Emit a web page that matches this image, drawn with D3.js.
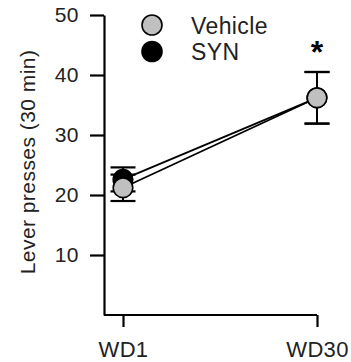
<!DOCTYPE html>
<html>
<head>
<meta charset="utf-8">
<script src="https://cdn.jsdelivr.net/npm/d3@7"></script>
<style>
  body { margin: 0; background: #fff; }
  svg { display: block; font-family: "Liberation Sans", Arial, sans-serif; }
</style>
</head>
<body>
<div id="chart"></div>
<script>
// Data
const days = ['WD1', 'WD30'];
const groups = ['SYN', 'Vehicle'];          // SYN drawn first, Vehicle on top
const synMean = [22.6, 36.2];
const synSem = [2.0, 4.3];
const vehicleMean = [21.2, 36.2];
const vehicleSem = [2.2, 4.3];
const yTicks = [10, 20, 30, 40, 50];
const legendLabels = ['Vehicle', 'SYN'];
const starDay = 'WD30';

const width = 351, height = 362;
const colors = { Vehicle: '#c0c0c0', SYN: '#000000' };

const series = [
    { name: 'SYN', mean: synMean, sem: synSem },
    { name: 'Vehicle', mean: vehicleMean, sem: vehicleSem }
];

const svg = d3.select('#chart')
    .append('svg')
    .attr('width', width)
    .attr('height', height);

// Scales
const x = d3.scalePoint().domain(days).range([123, 317]);
const y = d3.scaleLinear().domain([0, 50]).range([315, 15]);
const axisX = 104;

// Y axis
const yAxis = svg.append('g')
    .attr('transform', `translate(${axisX},0)`)
    .call(d3.axisLeft(y).tickValues(yTicks).tickSize(14).tickSizeOuter(0).tickPadding(11));
yAxis.select('.domain').attr('stroke', '#000').attr('stroke-width', 2.2);
yAxis.selectAll('.tick line').attr('stroke', '#000').attr('stroke-width', 2.2);
yAxis.selectAll('.tick text')
    .attr('fill', '#222')
    .style('font-size', '21px')
    .style('letter-spacing', '0.5px');

// X axis
const xAxis = svg.append('g')
    .attr('transform', `translate(0,${y(0)})`)
    .call(d3.axisBottom(x).tickSize(12).tickSizeOuter(0).tickPadding(14));
xAxis.select('.domain')
    .attr('d', `M${axisX},0H${x(days[days.length - 1])}`)
    .attr('stroke', '#000').attr('stroke-width', 2.2);
xAxis.selectAll('.tick line').attr('stroke', '#000').attr('stroke-width', 2.2);
xAxis.selectAll('.tick text')
    .attr('fill', '#222')
    .style('font-size', '22px')
    .style('letter-spacing', '0.3px');

// Y axis label
svg.append('text')
    .attr('transform', `translate(35,${(y(0) + y(50)) / 2 - 3}) rotate(-90)`)
    .attr('text-anchor', 'middle')
    .attr('fill', '#222')
    .style('font-size', '21px')
    .style('letter-spacing', '0.45px')
    .text('Lever presses (30 min)');

// Lines
const line = d3.line()
    .x((d, i) => x(days[i]))
    .y(d => y(d));

series.forEach(s => {
    svg.append('path')
        .datum(s.mean)
        .attr('d', line)
        .attr('fill', 'none')
        .attr('stroke', '#000')
        .attr('stroke-width', 1.8);
});

// Error bars and markers
const capHalf = 12.5;
series.forEach(s => {
    const g = svg.append('g');
    s.mean.forEach((m, i) => {
        const cx = x(days[i]);
        const lo = y(m - s.sem[i]), hi = y(m + s.sem[i]);
        g.append('line').attr('x1', cx).attr('x2', cx).attr('y1', lo).attr('y2', hi)
            .attr('stroke', '#000').attr('stroke-width', 2);
        [lo, hi].forEach(v => {
            g.append('line').attr('x1', cx - capHalf).attr('x2', cx + capHalf)
                .attr('y1', v).attr('y2', v)
                .attr('stroke', '#000').attr('stroke-width', 2.2);
        });
    });
    g.selectAll('circle')
        .data(s.mean)
        .enter()
        .append('circle')
        .attr('cx', (d, i) => x(days[i]))
        .attr('cy', d => y(d))
        .attr('r', 9.8)
        .attr('fill', colors[s.name])
        .attr('stroke', '#000')
        .attr('stroke-width', 1.6);
});

// Significance marker
svg.append('text')
    .attr('x', x(starDay))
    .attr('y', 63)
    .attr('text-anchor', 'middle')
    .attr('font-weight', 'bold')
    .style('font-size', '32px')
    .text('*');

// Legend
const legend = svg.append('g');
legendLabels.forEach((name, i) => {
    const cy = 25 + i * 26.5;
    legend.append('circle')
        .attr('cx', 152).attr('cy', cy).attr('r', 10)
        .attr('fill', colors[name])
        .attr('stroke', '#000').attr('stroke-width', 1.6);
    legend.append('text')
        .attr('x', 191).attr('y', cy + 8.5)
        .attr('fill', '#222')
        .style('font-size', '23px')
        .style('letter-spacing', '0.4px')
        .text(name);
});
</script>
</body>
</html>
